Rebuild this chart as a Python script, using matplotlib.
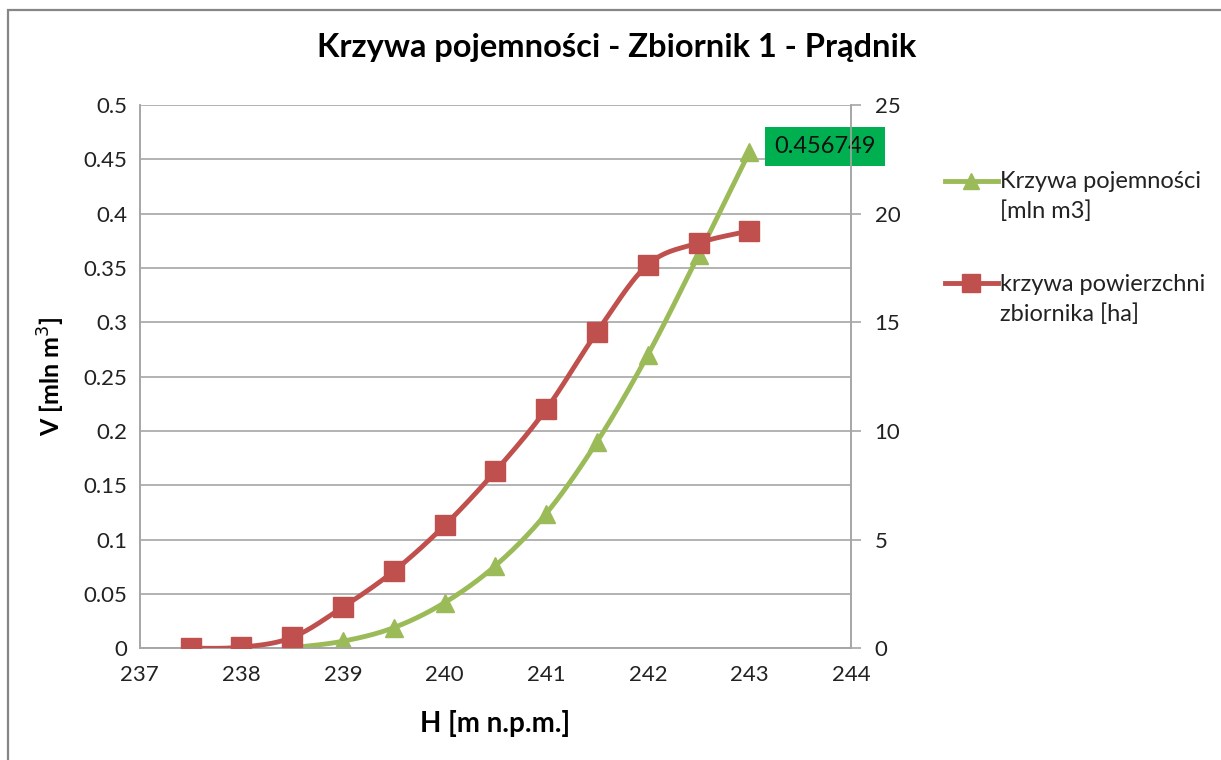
import numpy as np
import matplotlib
matplotlib.use("Agg")
import matplotlib.pyplot as plt
from matplotlib.patches import Rectangle
from matplotlib.lines import Line2D

plt.rcParams['font.family'] = ['Lato', 'DejaVu Sans']

# Reservoir data: water level H and corresponding volume / area
h_volume = [238.5, 239.0, 239.5, 240.0, 240.5, 241.0, 241.5, 242.0, 242.5, 243.0]
volume = [0.0005, 0.0065, 0.019, 0.042, 0.076, 0.124, 0.190, 0.270, 0.362, 0.456749]

h_area = [237.5, 238.0, 238.5, 239.0, 239.5, 240.0, 240.5, 241.0, 241.5, 242.0, 242.5, 243.0]
area = [0.0, 0.05, 0.5, 1.9, 3.55, 5.65, 8.15, 11.0, 14.55, 17.65, 18.65, 19.2]

x_ticks = [237, 238, 239, 240, 241, 242, 243, 244]
v_ticks = [0, 0.05, 0.1, 0.15, 0.2, 0.25, 0.3, 0.35, 0.4, 0.45, 0.5]
a_ticks = [0, 5, 10, 15, 20, 25]

series_labels = ['Krzywa pojemności\n[mln m3]', 'krzywa powierzchni\nzbiornika [ha]']

GREEN = '#9bbb59'
RED = '#c0504d'
GRID = '#a6a6a6'


def smooth(xs, ys, n=30):
    """Bezier smoothing of a polyline (tension 1/6 control points)."""
    xs = np.asarray(xs, float)
    ys = np.asarray(ys, float)
    px, py = [], []
    m = len(xs)
    for i in range(m - 1):
        x0, y0 = (xs[i - 1], ys[i - 1]) if i > 0 else (xs[i], ys[i])
        x1, y1 = xs[i], ys[i]
        x2, y2 = xs[i + 1], ys[i + 1]
        x3, y3 = (xs[i + 2], ys[i + 2]) if i + 2 < m else (xs[i + 1], ys[i + 1])
        c1x, c1y = x1 + (x2 - x0) / 6, y1 + (y2 - y0) / 6
        c2x, c2y = x2 - (x3 - x1) / 6, y2 - (y3 - y1) / 6
        t = np.linspace(0, 1, n)
        bx = (1 - t) ** 3 * x1 + 3 * (1 - t) ** 2 * t * c1x + 3 * (1 - t) * t ** 2 * c2x + t ** 3 * x2
        by = (1 - t) ** 3 * y1 + 3 * (1 - t) ** 2 * t * c1y + 3 * (1 - t) * t ** 2 * c2y + t ** 3 * y2
        px.extend(bx)
        py.extend(by)
    return np.array(px), np.array(py)


fig = plt.figure(figsize=(12.21, 7.6), dpi=100)
# Chart-area border
fig.patches.append(Rectangle((0.0068, -0.02), 1.2, 1.0068, transform=fig.transFigure,
                             fill=False, edgecolor='#868686', linewidth=1.6))

ax = fig.add_axes([0.1145, 0.147, 0.5825, 0.715])
ax2 = ax.twinx()

ax.set_xlim(237, 244)
ax.set_ylim(0, 0.5)
ax2.set_ylim(0, 25)
ax.set_xticks(x_ticks)
ax.set_yticks(v_ticks)
ax.set_yticklabels([f'{v:g}' for v in v_ticks])
ax2.set_yticks(a_ticks)

ax.grid(axis='y', color=GRID, linewidth=1.2)
ax.set_axisbelow(True)
for a in (ax, ax2):
    a.spines['top'].set_visible(False)
    for s in ('left', 'right', 'bottom'):
        a.spines[s].set_color(GRID)
        a.spines[s].set_linewidth(1.2)
ax.tick_params(axis='both', length=0, labelsize=16, colors='#222222', pad=9)
ax.tick_params(axis='x', pad=12)
ax2.tick_params(axis='y', length=7, width=1.2, color=GRID, labelsize=16,
                labelcolor='#222222', pad=10)

# Volume curve (left axis), area curve (right axis)
gx, gy = smooth(h_volume, volume)
ax.plot(gx, gy, color=GREEN, linewidth=3.5, zorder=3)
ax.plot(h_volume, volume, linestyle='none', marker='^', markersize=13,
        color=GREEN, zorder=4)

rx, ry = smooth(h_area, area)
ax2.plot(rx, ry, color=RED, linewidth=3.5, zorder=3)
ax2.plot(h_area, area, linestyle='none', marker='s', markersize=14.5,
         color=RED, zorder=4)

# Legend: key line aligned with the first line of each two-line label
legend_items = [(GREEN, '^', 12, series_labels[0], 0.762),
                (RED, 's', 13, series_labels[1], 0.627)]
for color, marker, msize, label, ypos in legend_items:
    fig.add_artist(Line2D([0.774, 0.817], [ypos, ypos], transform=fig.transFigure,
                          color=color, linewidth=3.5))
    fig.add_artist(Line2D([0.7955], [ypos], transform=fig.transFigure, color=color,
                          marker=marker, markersize=msize, linestyle='none'))
    fig.text(0.819, ypos + 0.013, label, fontsize=17, color='#222222',
             va='top', ha='left', linespacing=1.5)

# Data label on the last volume point
ax.annotate(f'{volume[-1]:g}', xy=(h_volume[-1], volume[-1]), xytext=(18, 4),
            textcoords='offset points', fontsize=17, color='#111111', va='center',
            ha='left', zorder=6,
            bbox=dict(boxstyle='square,pad=0.38', facecolor='#00b050', edgecolor='none'))

ax.set_xlabel('H [m n.p.m.]', fontsize=20, fontweight='bold', labelpad=18)
ax.set_ylabel('V [mln m$^{3}$]', fontsize=18, fontweight='bold', labelpad=12)
fig.suptitle('Krzywa pojemności - Zbiornik 1 - Prądnik', x=0.505, y=0.957,
             fontsize=23.5, fontweight='bold')

fig.savefig('out.png', dpi=100)
